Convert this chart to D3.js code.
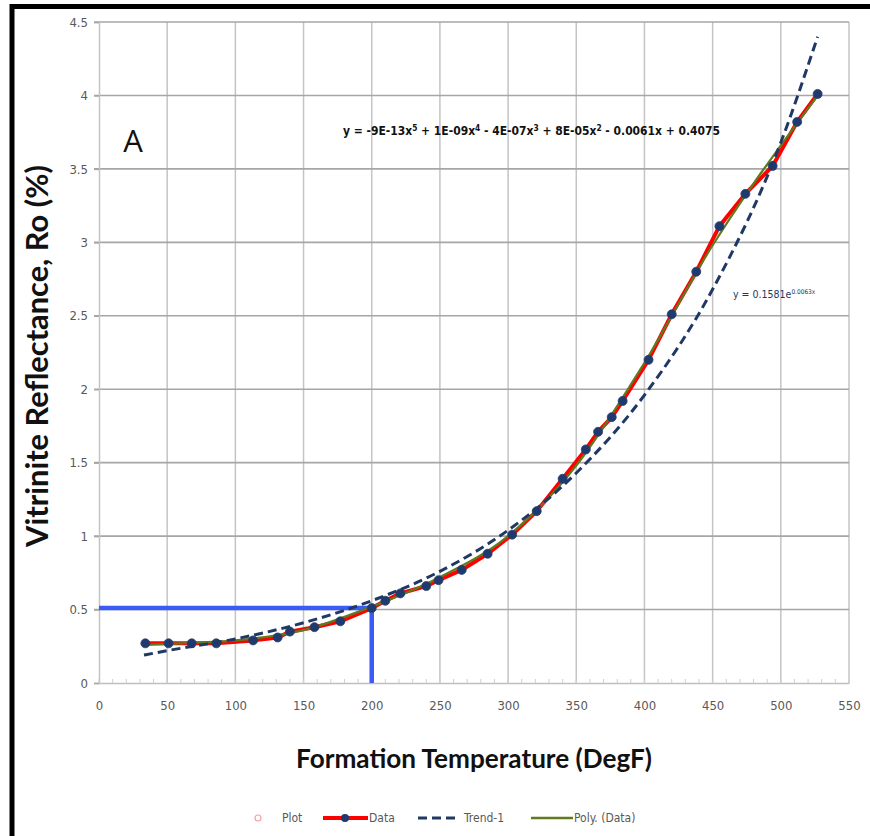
<!DOCTYPE html>
<html><head><meta charset="utf-8">
<script src="https://cdn.jsdelivr.net/npm/d3@7"></script>
<style>
html,body{margin:0;padding:0;background:#fff;}
svg{display:block;}
</style></head>
<body>
<svg id="chart" width="870" height="836"></svg>
<script>
// ---- data ----
const tempF = [34, 51, 68, 86, 113, 131, 140, 158, 177, 200, 210, 221, 240, 249, 266, 285, 303, 321, 340, 357, 366, 376, 384, 403, 420, 438, 455, 474, 494, 512, 527];
const ro    = [0.27,0.27,0.27,0.27,0.29,0.31,0.35,0.38,0.42,0.51,0.56,0.61,0.66,0.70,0.77,0.88,1.01,1.17,1.39,1.59,1.71,1.81,1.92,2.20,2.51,2.80,3.11,3.33,3.52,3.82,4.01];
const trendX = [33, 50, 100, 150, 200, 250, 300, 350, 400, 450, 500, 527];
const trendY = [0.19,0.22,0.30,0.41,0.56,0.76,1.04,1.43,1.96,2.68,3.68,4.40];
const polyX = [34, 60, 100, 150, 200, 250, 300, 350, 400, 450, 480, 500, 527];
const polyY = [0.26,0.27,0.29,0.36,0.52,0.72,1.00,1.48,2.18,2.98,3.40,3.66,4.00];
const markX = [0, 200];
const markY = [0, 0.51];
const xTicks = [0,50,100,150,200,250,300,350,400,450,500,550];
const yTicks = [0,0.5,1,1.5,2,2.5,3,3.5,4,4.5];
const legendLabels = ["Plot","Data","Trend-1","Poly. (Data)"];
const xTitle = "Formation Temperature (DegF)";
const yTitle = "Vitrinite Reflectance, Ro (%)";
const panelLabel = "A";

const svg = d3.select("#chart");
const narrow = "'Liberation Sans Narrow','DejaVu Sans Condensed','Liberation Sans',sans-serif";

const x = d3.scaleLinear().domain([0,550]).range([99,849]);
const y = d3.scaleLinear().domain([0,4.5]).range([683,22]);

// frame
svg.append("line").attr("x1",12).attr("x2",12).attr("y1",4).attr("y2",836).attr("stroke","#000").attr("stroke-width",5);
svg.append("line").attr("x1",10).attr("x2",870).attr("y1",6.5).attr("y2",6.5).attr("stroke","#000").attr("stroke-width",5);

// gridlines
const g = svg.append("g");
g.selectAll(".vg").data(xTicks.slice(1)).enter().append("line")
 .attr("x1",d=>x(d)).attr("x2",d=>x(d)).attr("y1",y(4.5)).attr("y2",y(0))
 .attr("stroke","#c4c4c4").attr("stroke-width",1.5);
g.selectAll(".hg").data(yTicks.slice(1)).enter().append("line")
 .attr("x1",x(0)-5).attr("x2",x(550)).attr("y1",d=>y(d)).attr("y2",d=>y(d))
 .attr("stroke","#a6a6a6").attr("stroke-width",1.6);

// axes
const xAxis = d3.axisBottom(x).tickValues(xTicks).tickSize(0).tickPadding(18).tickFormat(d3.format("d"));
const xa = svg.append("g").attr("transform",`translate(0,${y(0)})`).call(xAxis);
xa.select(".domain").attr("stroke","#bfbfbf").attr("stroke-width",1.5);
xa.selectAll("text").attr("fill","#595959").style("font-family",narrow).style("font-size","13px");
// minor ticks along x axis
const minor = d3.range(0,551,10);
svg.append("g").selectAll("line").data(minor).enter().append("line")
 .attr("x1",d=>x(d)).attr("x2",d=>x(d)).attr("y1",y(0)-4).attr("y2",y(0))
 .attr("stroke","#d0d0d0").attr("stroke-width",1);

const yAxis = d3.axisLeft(y).tickValues(yTicks).tickSize(5).tickPadding(6).tickFormat(d=>String(d));
const ya = svg.append("g").attr("transform",`translate(${x(0)},0)`).call(yAxis);
ya.select(".domain").attr("stroke","#c4c4c4").attr("stroke-width",1.5);
ya.selectAll(".tick line").attr("stroke","#a6a6a6").attr("stroke-width",1.5);
ya.selectAll("text").attr("fill","#595959").style("font-family",narrow).style("font-size","13px");

// blue marker lines
svg.append("path")
 .attr("d",`M${x(markX[0])},${y(markY[1])}L${x(markX[1])},${y(markY[1])}L${x(markX[1])},${y(markY[0])}`)
 .attr("fill","none").attr("stroke","#3a5bf5").attr("stroke-width",4.5);

// data line
const dataPts = tempF.map((t,i)=>[t,ro[i]]);
const line = d3.line().x(d=>x(d[0])).y(d=>y(d[1]));
svg.append("path").datum(dataPts).attr("d",line).attr("fill","none").attr("stroke","#ff0000").attr("stroke-width",4);
// poly trend
const polyPts = polyX.map((t,i)=>[t,polyY[i]]);
svg.append("path").datum(polyPts).attr("d",line.curve(d3.curveMonotoneX)).attr("fill","none").attr("stroke","#5f7a1f").attr("stroke-width",2.2);
// markers
svg.append("g").selectAll("circle").data(dataPts).enter().append("circle")
 .attr("cx",d=>x(d[0])).attr("cy",d=>y(d[1])).attr("r",4.5).attr("fill","#1f3a6e").attr("stroke","#2a3f6a").attr("stroke-width",0.8);
// exponential trend
const trendPts = trendX.map((t,i)=>[t,trendY[i]]);
svg.append("path").datum(trendPts).attr("d",d3.line().x(d=>x(d[0])).y(d=>y(d[1])).curve(d3.curveMonotoneX))
 .attr("fill","none").attr("stroke","#1f3864").attr("stroke-width",3).attr("stroke-dasharray","9,5");

// panel label
svg.append("text").attr("x",133).attr("y",152).attr("text-anchor","middle")
 .style("font-family","'Open Sans',sans-serif").style("font-size","31px").attr("fill","#111").text(panelLabel);

// polynomial equation
const eq = svg.append("text").attr("x",343).attr("y",135)
 .style("font-family",narrow).style("font-size","11.5px").style("font-weight","bold").attr("fill","#111");
const eqParts = [["y = -9E-13x",""],["5","sup"],[" + 1E-09x",""],["4","sup"],[" - 4E-07x",""],["3","sup"],[" + 8E-05x",""],["2","sup"],[" - 0.0061x + 0.4075",""]];
eqParts.forEach(p=>{
  const t = eq.append("tspan").text(p[0]);
  if(p[1]==="sup") t.attr("dy",-4).style("font-size","8px");
  else t.attr("dy", eq.selectAll("tspan").size()>1 ? 4 : 0);
});
// fit width
{const w = eq.node().getComputedTextLength(); if(w>0){eq.attr("textLength",377).attr("lengthAdjust","spacingAndGlyphs");}}

// exponential equation
const ex = svg.append("text").attr("x",733).attr("y",298)
 .style("font-family",narrow).style("font-size","10.5px").attr("fill","#1f3864");
ex.append("tspan").text("y = 0.1581e");
ex.append("tspan").attr("dy",-4).style("font-size","6.5px").text("0.0063x");

// axis titles
const xt = svg.append("text").attr("x",474).attr("y",768).attr("text-anchor","middle")
 .style("font-family","Lato,'Open Sans',sans-serif").style("font-weight","bold").style("font-size","24px").attr("fill","#111").text(xTitle);
{const w = xt.node().getComputedTextLength(); xt.style("font-size",(24*356/w).toFixed(2)+"px");}
const yt = svg.append("text").attr("transform","translate(48,356) rotate(-90)").attr("text-anchor","middle")
 .style("font-family","Lato,'Open Sans',sans-serif").style("font-weight","bold").style("font-size","22px").attr("fill","#111").text(yTitle);
{const w = yt.node().getComputedTextLength(); yt.style("font-size",(22*382/w).toFixed(2)+"px");}

// legend
const lg = svg.append("g").style("font-family",narrow).style("font-size","12px");
const ly = 818;
lg.append("circle").attr("cx",258).attr("cy",ly).attr("r",3).attr("fill","none").attr("stroke","#f2a0a8").attr("stroke-width",1.2);
lg.append("text").attr("x",282).attr("y",ly+4).attr("fill","#595959").text(legendLabels[0]);
lg.append("line").attr("x1",323).attr("x2",368).attr("y1",ly).attr("y2",ly).attr("stroke","#ff0000").attr("stroke-width",4);
lg.append("circle").attr("cx",345).attr("cy",ly).attr("r",4).attr("fill","#1f3a6e");
lg.append("text").attr("x",369).attr("y",ly+4).attr("fill","#595959").text(legendLabels[1]);
lg.append("line").attr("x1",418).attr("x2",459).attr("y1",ly).attr("y2",ly).attr("stroke","#1f3864").attr("stroke-width",3).attr("stroke-dasharray","9,5");
lg.append("text").attr("x",464).attr("y",ly+4).attr("fill","#595959").text(legendLabels[2]);
lg.append("line").attr("x1",531).attr("x2",573).attr("y1",ly).attr("y2",ly).attr("stroke","#5f7a1f").attr("stroke-width",2.5);
lg.append("text").attr("x",574).attr("y",ly+4).attr("fill","#595959").text(legendLabels[3]);
</script>
</body></html>
